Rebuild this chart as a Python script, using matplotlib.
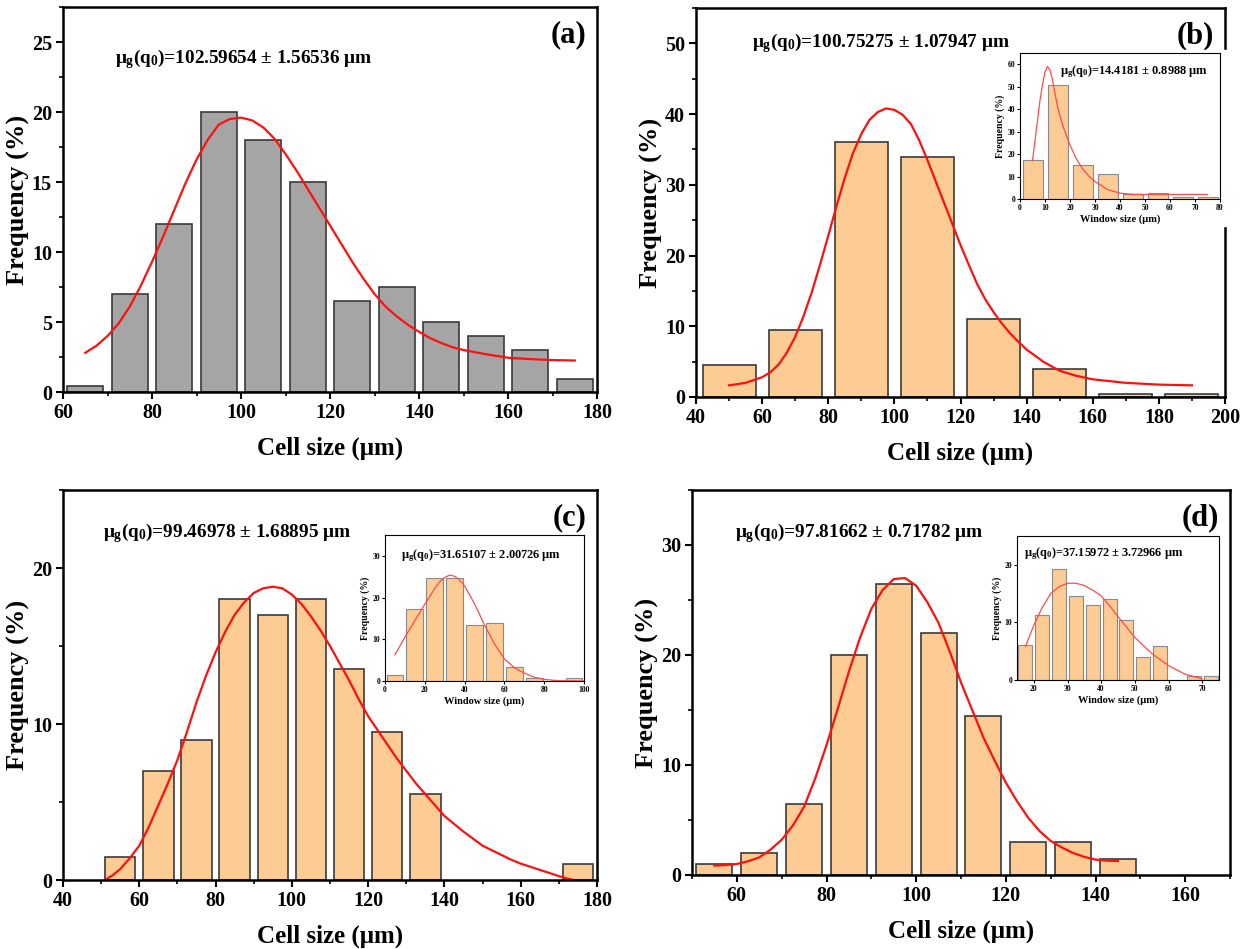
import numpy as np
import matplotlib.pyplot as plt
from matplotlib.ticker import MultipleLocator
from matplotlib.patches import Rectangle

plt.rcParams['font.family'] = ['Liberation Serif', 'DejaVu Serif']
plt.rcParams['font.weight'] = 'bold'
plt.rcParams['mathtext.fontset'] = 'custom'
plt.rcParams['mathtext.rm'] = 'Liberation Serif:bold'
plt.rcParams['mathtext.it'] = 'Liberation Serif:bold'
plt.rcParams['mathtext.bf'] = 'Liberation Serif:bold'

# ---- panel (a)
a_x = [65, 75, 85, 95, 105, 115, 125, 135, 145, 155, 165, 175]
a_freq = [0.4, 7.0, 12.0, 20.0, 18.0, 15.0, 6.5, 7.5, 5.0, 4.0, 3.0, 0.95]
a_fit_x = [65, 67.5, 70, 72.5, 75, 77.5, 80, 82.5, 85, 87.5, 90, 92.5, 95, 97.5,
           100, 102.5, 105, 107.5, 110, 112.5, 115, 117.5, 120, 122.5, 125,
           127.5, 130, 132.5, 135, 137.5, 140, 142.5, 145, 147.5, 150, 155, 160,
           165, 170, 175]
a_fit_y = [2.8, 3.3, 4.0, 4.9, 6.1, 7.6, 9.3, 11.1, 13.0, 14.9, 16.6, 18.0, 19.1,
           19.5, 19.6, 19.4, 18.9, 18.1, 17.0, 15.8, 14.5, 13.2, 11.9, 10.6, 9.3,
           8.1, 7.0, 6.1, 5.4, 4.8, 4.3, 3.85, 3.5, 3.2, 3.0, 2.7, 2.45, 2.35,
           2.28, 2.25]

# ---- panel (b)
b_x = [50, 70, 90, 110, 130, 150, 170, 190]
b_freq = [4.5, 9.5, 36.0, 34.0, 11.0, 4.0, 0.4, 0.4]
b_fit_x = [50, 55, 60, 62.5, 65, 67.5, 70, 72.5, 75, 77.5, 80, 82.5, 85, 87.5, 90,
           92.5, 95, 97.5, 100, 102.5, 105, 107.5, 110, 112.5, 115, 117.5, 120,
           122.5, 125, 127.5, 130, 132.5, 135, 137.5, 140, 145, 150, 155, 160,
           170, 180, 190]
b_fit_y = [1.65, 2.0, 2.8, 3.5, 4.6, 6.3, 8.5, 11.4, 14.8, 18.7, 22.8, 27.0, 31.0,
           34.5, 37.2, 39.2, 40.3, 40.8, 40.6, 39.9, 38.6, 36.3, 33.5, 30.5, 27.5,
           24.5, 21.5, 18.7, 16.0, 13.8, 12.0, 10.4, 9.0, 7.8, 6.7, 5.0, 3.7, 3.0,
           2.5, 2.0, 1.75, 1.65]
b_in_x = [5, 15, 25, 35, 45, 55, 65, 75]
b_in_freq = [17.2, 50.7, 15.2, 11.0, 2.1, 2.7, 0.7, 0.7]
b_in_fit_x = [5, 6, 7, 8, 9, 10, 11, 12, 13, 14, 15, 17, 20, 22.5, 25, 27.5, 30,
              35, 40, 45, 50, 60, 75]
b_in_fit_y = [17, 26, 35, 44, 51, 56.5, 59, 57.5, 53, 47, 41, 33, 24, 18, 13.5,
              10.2, 7.8, 4.2, 2.6, 2.1, 2.0, 2.0, 2.0]

# ---- panel (c)
c_x = [55, 65, 75, 85, 95, 105, 115, 125, 135, 175]
c_freq = [1.5, 7.0, 9.0, 18.0, 17.0, 18.0, 13.5, 9.5, 5.5, 1.0]
c_fit_x = [51, 53, 55, 57.5, 60, 62.5, 65, 67.5, 70, 72.5, 75, 77.5, 80, 82.5, 85,
           87.5, 90, 92.5, 95, 97.5, 100, 102.5, 105, 107.5, 110, 112.5, 115,
           117.5, 120, 122.5, 125, 127.5, 130, 132.5, 135, 137.5, 140, 142.5, 145,
           147.5, 150, 152.5, 155, 157.5, 160, 162.5, 165, 167.5, 170, 172, 174]
c_fit_y = [0.0, 0.3, 0.7, 1.4, 2.2, 3.4, 4.8, 6.2, 7.7, 9.5, 11.4, 13.1, 14.6,
           15.9, 17.0, 17.8, 18.4, 18.7, 18.8, 18.7, 18.3, 17.7, 16.9, 16.0, 15.0,
           13.9, 12.8, 11.6, 10.5, 9.6, 8.7, 7.8, 7.0, 6.2, 5.5, 4.8, 4.1, 3.6,
           3.1, 2.65, 2.2, 1.9, 1.6, 1.3, 1.05, 0.85, 0.65, 0.45, 0.25, 0.1, 0.0]
c_in_x = [5, 15, 25, 35, 45, 55, 65, 75, 85, 95]
c_in_freq = [1.4, 17.3, 24.8, 24.8, 13.4, 14.0, 3.4, 0.6, 0.0, 0.8]
c_in_fit_x = [5, 10, 15, 20, 25, 27.5, 30, 32.5, 35, 37.5, 40, 45, 50, 55, 60, 65,
              70, 75, 80, 85, 90, 100]
c_in_fit_y = [6.3, 10.5, 14.5, 18.4, 22.2, 23.8, 24.8, 25.4, 25.1, 24.2, 22.8,
              18.5, 13.4, 8.9, 5.3, 3.2, 1.9, 0.9, 0.4, 0.15, 0.05, 0.0]

# ---- panel (d)
d_x = [55, 65, 75, 85, 95, 105, 115, 125, 135, 145]
d_freq = [1.0, 2.0, 6.5, 20.0, 26.5, 22.0, 14.5, 3.0, 3.0, 1.5]
d_fit_x = [55, 57.5, 60, 62.5, 65, 67.5, 70, 72.5, 75, 77.5, 80, 82.5, 85, 87.5,
           90, 92.5, 95, 97.5, 100, 102.5, 105, 107.5, 110, 112.5, 115, 117.5,
           120, 122.5, 125, 127.5, 130, 132.5, 135, 137.5, 140, 142.5, 145]
d_fit_y = [0.85, 0.9, 1.0, 1.25, 1.6, 2.3, 3.2, 4.5, 6.2, 8.8, 11.8, 15.1, 18.5,
           21.6, 24.2, 25.9, 26.9, 27.0, 26.3, 24.8, 22.9, 20.3, 17.5, 15.0, 12.5,
           10.4, 8.4, 6.7, 5.2, 4.0, 3.1, 2.5, 2.0, 1.65, 1.4, 1.3, 1.27]
d_in_x = [17.5, 22.5, 27.5, 32.5, 37.5, 42.5, 47.5, 52.5, 57.5, 62.5, 67.5, 72.5]
d_in_freq = [6.0, 11.2, 19.2, 14.6, 13.1, 14.0, 10.5, 4.0, 5.9, 0.0, 0.7, 0.7]
d_in_fit_x = [17.5, 20, 22.5, 25, 27.5, 30, 32.5, 35, 37.5, 40, 42.5, 45, 47.5,
              50, 55, 60, 65, 70]
d_in_fit_y = [5.8, 9.5, 12.6, 15.0, 16.2, 16.8, 16.8, 16.4, 15.6, 14.6, 12.9,
              11.0, 9.2, 7.4, 4.6, 2.5, 1.0, 0.2]

labels = ['(a)', '(b)', '(c)', '(d)']
notes = [r'$\mu_g(q_0)$=102.59654 ± 1.56536 μm',
         r'$\mu_g(q_0)$=100.75275 ± 1.07947 μm',
         r'$\mu_g(q_0)$=99.46978 ± 1.68895 μm',
         r'$\mu_g(q_0)$=97.81662 ± 0.71782 μm']
in_notes = [r'$\mu_g(q_0)$=14.4181 ± 0.8988 μm',
            r'$\mu_g(q_0)$=31.65107 ± 2.00726 μm',
            r'$\mu_g(q_0)$=37.15972 ± 3.72966 μm']

W, H = 1244, 949
fig = plt.figure(figsize=(W / 100, H / 100), dpi=100)


def box(x0, y0, x1, y1):
    # pixel box (top-left origin) -> figure fraction rect
    return [x0 / W, 1 - y1 / H, (x1 - x0) / W, (y1 - y0) / H]


def main_panel(rect, x, freq, width, color, fx, fy, xlim, ylim, xt, yt, lab, note, notepos):
    ax = fig.add_axes(rect)
    ax.bar(x, freq, width=width, color=color, edgecolor='#3a3a3a', linewidth=1.2)
    ax.plot(fx, fy, color='#ff1010', lw=1.6, solid_joinstyle='round')
    ax.set_xlim(*xlim)
    ax.set_ylim(*ylim)
    ax.xaxis.set_major_locator(MultipleLocator(xt))
    ax.xaxis.set_minor_locator(MultipleLocator(xt / 2))
    ax.yaxis.set_major_locator(MultipleLocator(yt))
    ax.yaxis.set_minor_locator(MultipleLocator(yt / 2))
    ax.tick_params(which='major', direction='out', length=5, width=1.5, labelsize=14.5, pad=3)
    ax.tick_params(which='minor', direction='out', length=3, width=1.2)
    for s in ax.spines.values():
        s.set_linewidth(1.8)
    ax.set_xlabel('Cell size (μm)', fontsize=18, fontweight='bold', labelpad=10)
    ax.set_ylabel('Frequency (%)', fontsize=19, fontweight='bold', labelpad=1)
    ax.text(0.98, 0.965, lab, transform=ax.transAxes, ha='right', va='top',
            fontsize=22, fontweight='bold')
    ax.text(notepos[0], notepos[1], note, transform=ax.transAxes, ha='left',
            va='center', fontsize=13.9, fontweight='bold')
    return ax


def inset_panel(rect, x, freq, width, fx, fy, xlim, ylim, xt, yt, note, notepos):
    ax = fig.add_axes(rect)
    ax.set_zorder(5)
    ax.bar(x, freq, width=width, color='#fdcb94', edgecolor='#8a8a8a', linewidth=0.8)
    ax.plot(fx, fy, color='#ff4a4a', lw=0.9, solid_joinstyle='round')
    ax.set_xlim(*xlim)
    ax.set_ylim(*ylim)
    ax.xaxis.set_major_locator(MultipleLocator(xt))
    ax.yaxis.set_major_locator(MultipleLocator(yt))
    ax.tick_params(direction='out', length=2, width=0.8, labelsize=5.5, pad=1.5)
    for s in ax.spines.values():
        s.set_linewidth(0.8)
    ax.set_xlabel('Window size (μm)', fontsize=7.5, fontweight='bold', labelpad=2)
    ax.set_ylabel('Frequency (%)', fontsize=7, fontweight='bold', labelpad=2)
    ax.text(notepos[0], notepos[1], note, transform=ax.transAxes, ha='left',
            va='center', fontsize=8.9, fontweight='bold')
    return ax


orange = '#fdcb94'
main_panel(box(63, 7, 597, 392), a_x, a_freq, 8, '#a5a5a5', a_fit_x, a_fit_y,
           (60, 180), (0, 27.5), 20, 5, labels[0], notes[0], (0.098, 0.865))
main_panel(box(696, 8, 1225, 397), b_x, b_freq, 16, orange, b_fit_x, b_fit_y,
           (40, 200), (0, 55), 20, 10, labels[1], notes[1], (0.105, 0.91))
main_panel(box(63, 490, 597, 880), c_x, c_freq, 8, orange, c_fit_x, c_fit_y,
           (40, 180), (0, 25), 20, 10, labels[2], notes[2], (0.074, 0.89))
main_panel(box(692, 490, 1230, 875), d_x, d_freq, 8, orange, d_fit_x, d_fit_y,
           (50, 170), (0, 35), 20, 10, labels[3], notes[3], (0.079, 0.888))

# white backing of the pasted inset in (b)
fig.patches.append(Rectangle((995 / W, 1 - 226 / H), 236 / W, 176 / H,
                             transform=fig.transFigure, color='white', zorder=3))

inset_panel(box(1020, 53, 1220, 199), b_in_x, b_in_freq, 8, b_in_fit_x, b_in_fit_y,
            (0, 80), (0, 65), 10, 10, in_notes[0], (0.2, 0.87))
inset_panel(box(385, 535, 584, 681), c_in_x, c_in_freq, 8.4, c_in_fit_x, c_in_fit_y,
            (0, 100), (0, 35), 20, 10, in_notes[1], (0.08, 0.86))
inset_panel(box(1017, 536, 1219, 680), d_in_x, d_in_freq, 4.2, d_in_fit_x, d_in_fit_y,
            (15, 75), (0, 25), 10, 10, in_notes[2], (0.035, 0.875))

fig.savefig('out.png', dpi=100)
